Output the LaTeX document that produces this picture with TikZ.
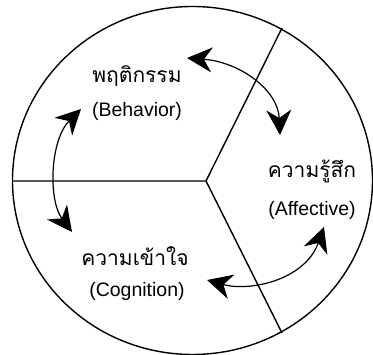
\documentclass[tikz,border=0pt]{standalone}
\usepackage{fontspec}
\setmainfont{Liberation Sans}
\newfontfamily\thaifont[Script=Thai]{Loma}
\usetikzlibrary{arrows.meta}
\begin{document}
\begin{tikzpicture}[x=1pt,y=-1pt,
  frame/.style={line width=1.4pt},
  headtip/.tip={Stealth[length=25pt,width=25pt,inset=8pt]},
  cyc/.style={line width=1.2pt,headtip-headtip},
  thai/.style={font=\thaifont\fontsize{21}{23}\selectfont},
  eng/.style={font=\fontsize{19.5}{22}\selectfont}]
\useasboundingbox (0,0) rectangle (373,355);
\draw[frame] (192.5,180.5) ellipse [x radius=180, y radius=174];
\coordinate (c) at (206,181);
\coordinate (l) at (12.5,181);
\coordinate (u) at (282,28);
\coordinate (d) at (282,333);
\draw[frame] (l) -- (c) -- (u);
\draw[frame] (c) -- (d);
\node[thai] (b1) at (137,76) {พฤติกรรม};
\node[eng] (b2) at (137,111) {(Behavior)};
\node[thai] (a1) at (312,171) {ความรู้สึก};
\node[eng] (a2) at (312,210) {(Affective)};
\node[thai] (k1) at (135,256) {ความเข้าใจ};
\node[eng] (k2) at (137,291) {(Cognition)};
\coordinate (t1) at (187,58);
\coordinate (t2) at (280,135);
\coordinate (l1) at (81,109);
\coordinate (l2) at (72,232);
\coordinate (r1) at (207,280);
\coordinate (r2) at (324,227);
\draw[cyc] (t1) .. controls (240,62) and (278,90) .. (t2);
\draw[cyc] (l1) .. controls (50,140) and (48,200) .. (l2);
\draw[cyc] (r1) .. controls (250,292) and (305,280) .. (r2);
\end{tikzpicture}
\end{document}
